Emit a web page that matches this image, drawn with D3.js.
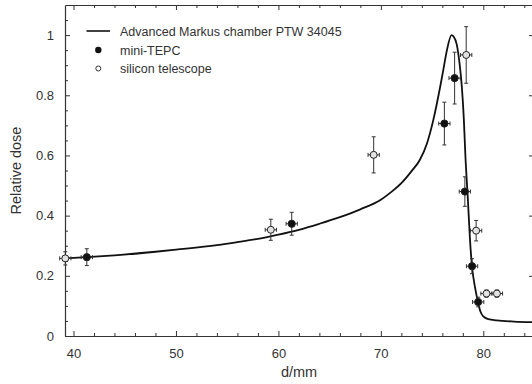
<!DOCTYPE html>
<html>
<head>
<meta charset="utf-8">
<title>Relative dose vs depth</title>
<script src="https://cdn.jsdelivr.net/npm/d3@7"></script>
<style>
  body { margin: 0; background: #fff; }
  svg { display: block; font-family: "Liberation Sans", Arial, sans-serif; }
</style>
</head>
<body>
<svg id="chart" width="532" height="384"></svg>
<script>
// Advanced Markus chamber depth-dose curve
var chamberDepth = [39.2, 41.3, 44, 48, 50, 54, 56, 58, 60, 62, 64, 66, 68, 70, 71, 72, 73, 73.8, 74.5, 75.1, 75.8, 76.1, 76.45, 76.9, 77.1, 77.4, 77.7, 77.9, 78.1, 78.25, 78.5, 78.7, 78.9, 79.2, 79.5, 79.7, 80.0, 80.5, 81.3, 83, 84.9];
var chamberDose  = [0.258, 0.262, 0.268, 0.28, 0.287, 0.302, 0.312, 0.323, 0.337, 0.353, 0.373, 0.395, 0.421, 0.453, 0.478, 0.508, 0.548, 0.585, 0.64, 0.715, 0.83, 0.885, 0.95, 1.0, 0.995, 0.97, 0.9, 0.83, 0.72, 0.6, 0.45, 0.32, 0.23, 0.16, 0.11, 0.083, 0.065, 0.056, 0.052, 0.048, 0.046];

// mini-TEPC
var tepcDepth = [41.3, 61.3, 76.2, 77.2, 78.2, 78.9, 79.5];
var tepcDose  = [0.262, 0.373, 0.706, 0.857, 0.48, 0.232, 0.113];
var tepcErr   = [0.028, 0.038, 0.071, 0.086, 0.049, 0.025, 0.016];

// silicon telescope
var siDepth = [39.2, 59.26, 69.3, 78.33, 79.3, 80.31, 81.33];
var siDose  = [0.258, 0.353, 0.602, 0.934, 0.35, 0.141, 0.141];
var siErr   = [0.022, 0.035, 0.06, 0.094, 0.034, 0.012, 0.012];

var depthErr = 0.55;

var xTicks = [40, 50, 60, 70, 80];
var yTicks = [0, 0.2, 0.4, 0.6, 0.8, 1];
var yTickLabels = ["0", "0.2", "0.4", "0.6", "0.8", "1"];

var legendLabels = ["Advanced Markus chamber PTW 34045", "mini-TEPC", "silicon telescope"];

var svg = d3.select("#chart");
var plotLeft = 65, plotRight = 533, plotTop = 5, plotBottom = 336;
var axisColor = "#333";

var x = d3.scaleLinear().domain([39.17, 84.85]).range([plotLeft, plotRight]);
var y = d3.scaleLinear().domain([0, 1.1]).range([plotBottom, plotTop]);

// minor ticks
var xMinor = d3.range(40, 85, 2).filter(function(v) { return v % 10 !== 0; });
var yMinor = d3.range(0.05, 1.1, 0.05).filter(function(v) { return Math.abs(v * 5 - Math.round(v * 5)) > 0.01; });

function styleAxis(g) {
  g.select(".domain").attr("stroke", axisColor).attr("stroke-width", 1.2);
  g.selectAll(".tick line").attr("stroke", axisColor);
  g.selectAll(".tick text").attr("fill", "#333").attr("font-size", "13px")
    .attr("font-family", "Liberation Sans, Arial, sans-serif");
}

// bottom axis with inward ticks
var gb = svg.append("g").attr("transform", "translate(0," + plotBottom + ")")
  .call(d3.axisBottom(x).tickValues(xTicks).tickSizeInner(-5).tickSizeOuter(0).tickPadding(13).tickFormat(d3.format("d")));
styleAxis(gb);
svg.append("g").attr("transform", "translate(0," + plotBottom + ")")
  .call(d3.axisBottom(x).tickValues(xMinor).tickSizeInner(-3).tickSizeOuter(0).tickFormat(""))
  .call(function(g) { g.select(".domain").remove(); g.selectAll("line").attr("stroke", axisColor); });

// top axis
var gt = svg.append("g").attr("transform", "translate(0," + plotTop + ")")
  .call(d3.axisTop(x).tickValues(xTicks).tickSizeInner(-5).tickSizeOuter(0).tickFormat(""));
styleAxis(gt);
svg.append("g").attr("transform", "translate(0," + plotTop + ")")
  .call(d3.axisTop(x).tickValues(xMinor).tickSizeInner(-3).tickSizeOuter(0).tickFormat(""))
  .call(function(g) { g.select(".domain").remove(); g.selectAll("line").attr("stroke", axisColor); });

// left axis
var gl = svg.append("g").attr("transform", "translate(" + plotLeft + ",0)")
  .call(d3.axisLeft(y).tickValues(yTicks).tickSizeInner(-5).tickSizeOuter(0).tickPadding(11)
    .tickFormat(function(d, i) { return yTickLabels[i]; }));
styleAxis(gl);
svg.append("g").attr("transform", "translate(" + plotLeft + ",0)")
  .call(d3.axisLeft(y).tickValues(yMinor).tickSizeInner(-3).tickSizeOuter(0).tickFormat(""))
  .call(function(g) { g.select(".domain").remove(); g.selectAll("line").attr("stroke", axisColor); });

// right axis
var gr = svg.append("g").attr("transform", "translate(" + plotRight + ",0)")
  .call(d3.axisRight(y).tickValues(yTicks).tickSizeInner(-4).tickSizeOuter(0).tickFormat(""));
styleAxis(gr);

// axis titles
svg.append("text").attr("x", (plotLeft + plotRight) / 2).attr("y", 377)
  .attr("text-anchor", "middle").attr("font-size", "14.5px").attr("fill", "#333").text("d/mm");
svg.append("text").attr("transform", "translate(21," + ((plotTop + plotBottom) / 2) + ") rotate(-90)")
  .attr("text-anchor", "middle").attr("font-size", "14.5px").attr("fill", "#333").text("Relative dose");

// chamber curve
var curvePts = chamberDepth.map(function(d, i) { return [d, chamberDose[i]]; });
svg.append("path").datum(curvePts)
  .attr("fill", "none").attr("stroke", "#111").attr("stroke-width", 1.8)
  .attr("d", d3.line().x(function(d) { return x(d[0]); }).y(function(d) { return y(d[1]); }).curve(d3.curveMonotoneX));

function drawSeries(depth, dose, err, fill, r) {
  var g = svg.append("g");
  depth.forEach(function(d, i) {
    var cx = x(d), cy = y(dose[i]);
    var y0 = y(dose[i] - err[i]), y1 = y(dose[i] + err[i]);
    var x0 = x(d - depthErr), x1 = x(d + depthErr);
    var eb = g.append("g").attr("stroke", "#333").attr("stroke-width", 1);
    eb.append("line").attr("x1", cx).attr("x2", cx).attr("y1", y0).attr("y2", y1);
    eb.append("line").attr("x1", cx - 2).attr("x2", cx + 2).attr("y1", y0).attr("y2", y0);
    eb.append("line").attr("x1", cx - 2).attr("x2", cx + 2).attr("y1", y1).attr("y2", y1);
    eb.append("line").attr("x1", x0).attr("x2", x1).attr("y1", cy).attr("y2", cy);
    eb.append("line").attr("x1", x0).attr("x2", x0).attr("y1", cy - 2).attr("y2", cy + 2);
    eb.append("line").attr("x1", x1).attr("x2", x1).attr("y1", cy - 2).attr("y2", cy + 2);
    g.append("circle").attr("cx", cx).attr("cy", cy).attr("r", r)
      .attr("fill", fill).attr("stroke", "#222").attr("stroke-width", 1);
  });
}

drawSeries(siDepth, siDose, siErr, "#e2e2e2", 3.5);
drawSeries(tepcDepth, tepcDose, tepcErr, "#111", 3.6);

// legend
var lg = svg.append("g");
var rows = [31, 50, 68.5];
lg.append("line").attr("x1", 86.5).attr("x2", 110).attr("y1", rows[0]).attr("y2", rows[0])
  .attr("stroke", "#111").attr("stroke-width", 1.6);
lg.append("circle").attr("cx", 98.3).attr("cy", rows[1]).attr("r", 3.2).attr("fill", "#111");
lg.append("circle").attr("cx", 98.3).attr("cy", rows[2]).attr("r", 2.5).attr("fill", "#fff")
  .attr("stroke", "#333").attr("stroke-width", 1);
legendLabels.forEach(function(t, i) {
  lg.append("text").attr("x", 120).attr("y", rows[i] + 4.5)
    .attr("font-size", "12.5px").attr("fill", "#333").text(t);
});
</script>
</body>
</html>
